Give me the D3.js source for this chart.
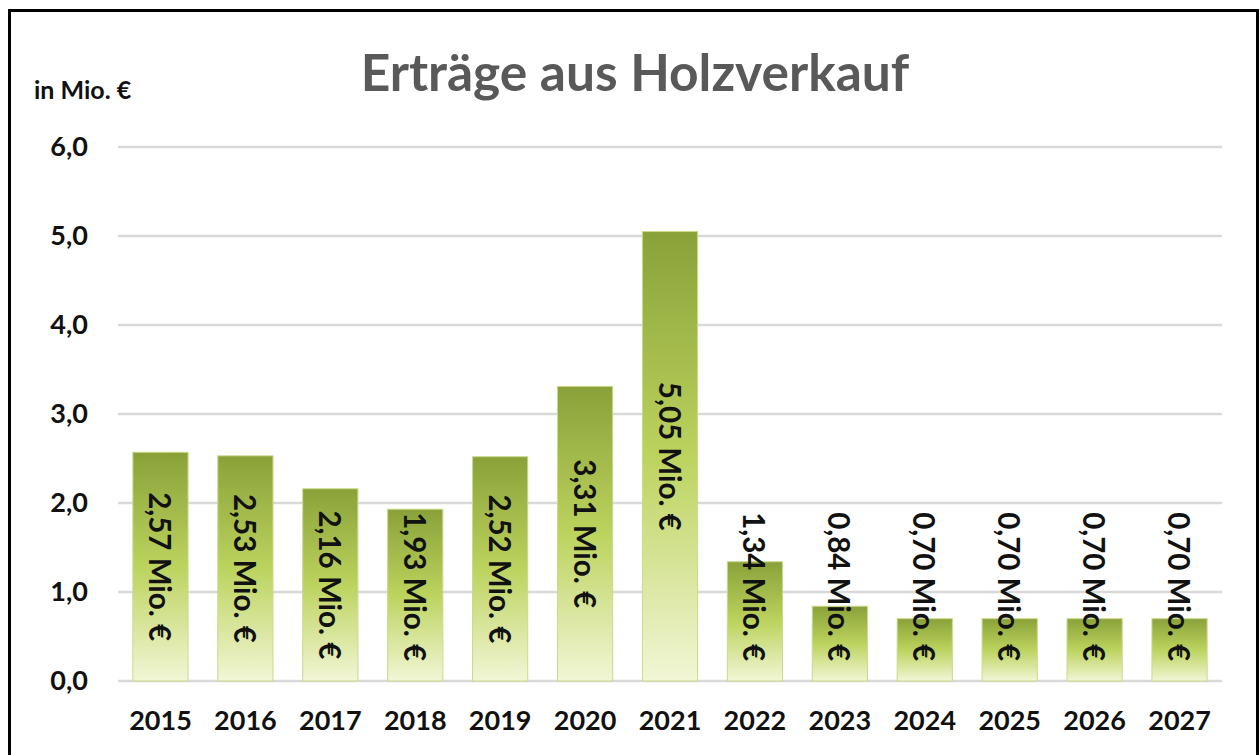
<!DOCTYPE html>
<html>
<head>
<meta charset="utf-8">
<script src="https://cdn.jsdelivr.net/npm/d3@7"></script>
<style>
  body { margin: 0; background: #fff; }
  text { font-family: Lato, "Open Sans", sans-serif; font-weight: bold; }
</style>
</head>
<body>
<div class="canvas"></div>
<script>
// data
const years = ["2015", "2016", "2017", "2018", "2019", "2020", "2021", "2022", "2023", "2024", "2025", "2026", "2027"];
const revenue = [2.57, 2.53, 2.16, 1.93, 2.52, 3.31, 5.05, 1.34, 0.84, 0.7, 0.7, 0.7, 0.7];
const yTicks = [0, 1, 2, 3, 4, 5, 6];

const width = 1260;
const height = 755;
const margin = { top: 147, bottom: 74, left: 118, right: 38 };
const graphWidth = width - margin.left - margin.right;
const graphHeight = height - margin.top - margin.bottom;

const svg = d3
  .select(".canvas")
  .append("svg")
  .attr("width", width)
  .attr("height", height);

// gradient for bars
const grad = svg
  .append("defs")
  .append("linearGradient")
  .attr("id", "barGrad")
  .attr("x1", 0)
  .attr("y1", 0)
  .attr("x2", 0)
  .attr("y2", 1);
grad.append("stop").attr("offset", "0%").attr("stop-color", "#8aa139");
grad.append("stop").attr("offset", "50%").attr("stop-color", "#bcd35e");
grad.append("stop").attr("offset", "100%").attr("stop-color", "#f2f6d6");

// frame
svg
  .append("rect")
  .attr("x", 9.5)
  .attr("y", 10.5)
  .attr("width", 1248)
  .attr("height", 800)
  .attr("fill", "none")
  .attr("stroke", "#000")
  .attr("stroke-width", 3);

// title
svg
  .append("text")
  .attr("x", 635)
  .attr("y", 91)
  .attr("text-anchor", "middle")
  .attr("font-size", 51.5)
  .attr("fill", "#595959")
  .text("Erträge aus Holzverkauf");

svg
  .append("text")
  .attr("x", 34)
  .attr("y", 99)
  .attr("font-size", 25)
  .attr("fill", "#111")
  .text("in Mio. €");

const graph = svg
  .append("g")
  .attr("transform", `translate(${margin.left},${margin.top})`);

// scales
const x = d3.scaleBand().domain(years).range([0, graphWidth]).paddingInner(0.35).paddingOuter(0.175);
const y = d3.scaleLinear().domain([0, 6]).range([graphHeight, 0]);

// gridlines
graph
  .append("g")
  .selectAll("line")
  .data(yTicks)
  .join("line")
  .attr("x1", 0)
  .attr("x2", graphWidth)
  .attr("y1", (d) => y(d))
  .attr("y2", (d) => y(d))
  .attr("stroke", "#d9d9d9")
  .attr("stroke-width", 2.5);

// y axis
const yAxis = d3
  .axisLeft(y)
  .tickValues(yTicks)
  .tickSize(0)
  .tickPadding(30)
  .tickFormat((d) => d3.format(".1f")(d).replace(".", ","));
const yAxisGroup = graph.append("g").call(yAxis);
yAxisGroup.select(".domain").remove();
yAxisGroup
  .selectAll("text")
  .attr("font-size", 27)
  .attr("font-family", "Lato, sans-serif")
  .attr("fill", "#111");

// x axis
const xAxis = d3.axisBottom(x).tickSize(0).tickPadding(30);
const xAxisGroup = graph
  .append("g")
  .attr("transform", `translate(0,${graphHeight})`)
  .call(xAxis);
xAxisGroup.select(".domain").remove();
xAxisGroup
  .selectAll("text")
  .attr("font-size", 27)
  .attr("font-family", "Lato, sans-serif")
  .attr("fill", "#111");

// bars
graph
  .append("g")
  .selectAll("rect")
  .data(revenue)
  .join("rect")
  .attr("x", (d, i) => x(years[i]))
  .attr("y", (d) => y(d))
  .attr("width", x.bandwidth())
  .attr("height", (d) => graphHeight - y(d))
  .attr("fill", "url(#barGrad)")
  .attr("stroke", "#c9da8a")
  .attr("stroke-width", 1);

// rotated value labels
const labels = graph
  .append("g")
  .selectAll("text")
  .data(revenue)
  .join("text")
  .attr("font-size", 29.5)
  .attr("fill", "#111")
  .attr("text-anchor", "middle")
  .attr("dominant-baseline", "central")
  .text((d) => d3.format(".2f")(d).replace(".", ",") + " Mio. €");

labels.attr("transform", function (d, i) {
  const half = this.getComputedTextLength() / 2;
  const cx = x(years[i]) + x.bandwidth() / 2;
  const cy = Math.min((y(d) + graphHeight) / 2, graphHeight - 20 - half);
  return `translate(${cx},${cy}) rotate(90)`;
});
</script>
</body>
</html>
